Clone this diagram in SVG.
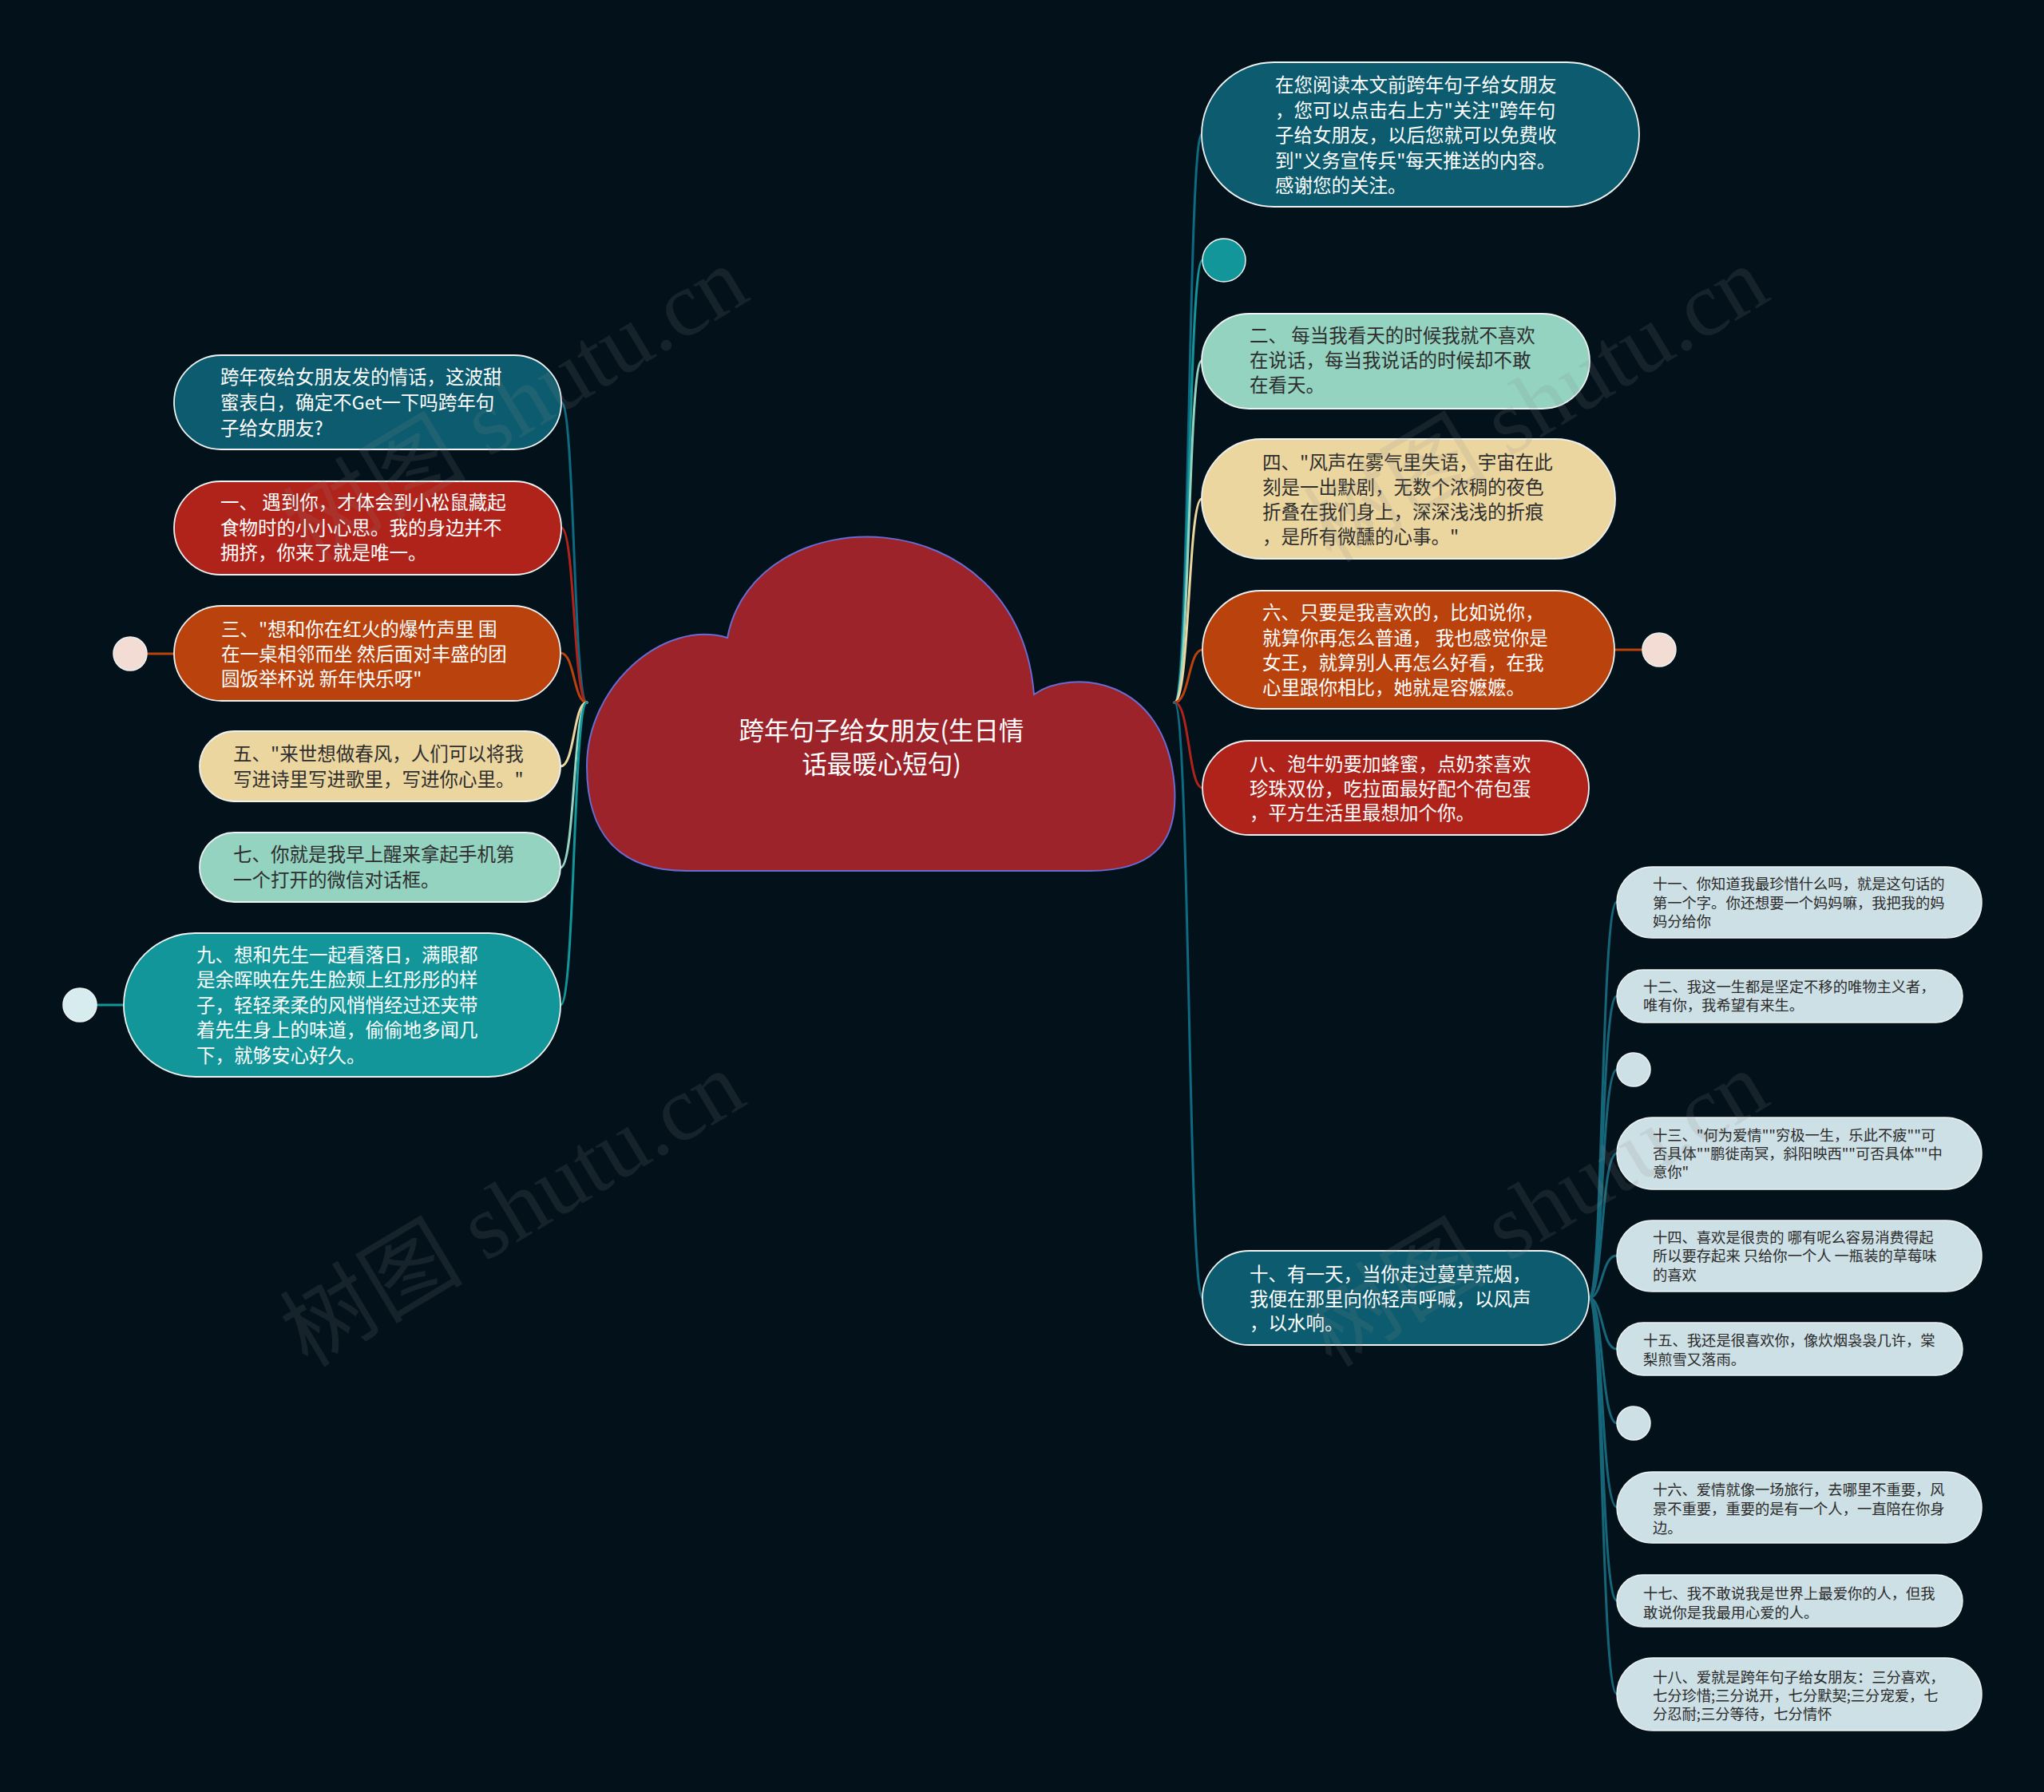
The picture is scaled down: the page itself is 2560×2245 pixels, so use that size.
<svg xmlns="http://www.w3.org/2000/svg" width="2560" height="2245" viewBox="0 0 2560 2245">
<style>
.bg{fill:#03111b}
.t{font-family:"Noto Sans CJK SC","Noto Sans",sans-serif;font-size:23.5px}
.ts{font-family:"Noto Sans CJK SC","Noto Sans",sans-serif;font-size:18.3px;fill:#2a2a2a}
.w{fill:#ffffff}
.d{fill:#2e2e2e}
.box{stroke:#eef2f2;stroke-width:1.8}
.c{fill:none;stroke-width:3;stroke-linecap:round}
.sub{fill:#cde0e5;stroke:#eef2f2;stroke-width:1.5}
.wm{font-family:"Liberation Serif","Noto Sans CJK SC",serif;font-size:115px;fill:#8a8a8a;opacity:0.15}
</style>
<rect class="bg" x="0" y="0" width="2560" height="2245"/>

<g id="connectors">
  <!-- left -->
  <path class="c" stroke="#0e6a80" d="M735,880 C718,880 720,504 703,504"/>
  <path class="c" stroke="#b0231a" d="M735,880 C718,880 720,661 703,661"/>
  <path class="c" stroke="#b9420d" d="M735,880 C718,880 720,818 702,818"/>
  <path class="c" stroke="#ecd6a0" d="M735,880 C718,880 720,960 702,960"/>
  <path class="c" stroke="#93d3c0" d="M735,880 C718,880 720,1087 702,1087"/>
  <path class="c" stroke="#12969a" d="M735,880 C718,880 720,1259 702,1259"/>
  <path class="c" stroke="#b9420d" d="M184,819 L218,819"/>
  <path class="c" stroke="#12969a" d="M121,1259 L155,1259"/>
  <!-- right -->
  <path class="c" stroke="#0e6a80" d="M1471,880 C1490,880 1488,168 1505,168"/>
  <path class="c" stroke="#12969a" d="M1471,880 C1490,880 1488,326 1506,326"/>
  <path class="c" stroke="#93d3c0" d="M1471,880 C1490,880 1488,452 1505,452"/>
  <path class="c" stroke="#ecd6a0" d="M1471,880 C1490,880 1488,625 1505,625"/>
  <path class="c" stroke="#b9420d" d="M1471,880 C1490,880 1488,814 1506,814"/>
  <path class="c" stroke="#b0231a" d="M1471,880 C1490,880 1488,987 1506,987"/>
  <path class="c" stroke="#0e6a80" d="M1471,880 C1490,880 1488,1626 1506,1626"/>
  <path class="c" stroke="#b9420d" d="M2022,814 L2057,814"/>
  <!-- sub -->
  <g stroke="#16667a">
  <path class="c" d="M1990,1626 C2008,1626 2005,1130 2025,1130"/>
  <path class="c" d="M1990,1626 C2008,1626 2005,1248 2025,1248"/>
  <path class="c" d="M1990,1626 C2008,1626 2005,1340 2025,1340"/>
  <path class="c" d="M1990,1626 C2008,1626 2005,1445 2025,1445"/>
  <path class="c" d="M1990,1626 C2008,1626 2005,1573 2025,1573"/>
  <path class="c" d="M1990,1626 C2008,1626 2005,1690 2025,1690"/>
  <path class="c" d="M1990,1626 C2008,1626 2005,1783 2025,1783"/>
  <path class="c" d="M1990,1626 C2008,1626 2005,1888 2025,1888"/>
  <path class="c" d="M1990,1626 C2008,1626 2005,2005 2025,2005"/>
  <path class="c" d="M1990,1626 C2008,1626 2005,2122 2025,2122"/>
  </g>
</g>

<g id="center">
  <path d="M911,799 C945,620 1275,620 1295,870 C1340,838 1460,845 1471,985 C1476,1060 1440,1091 1365,1091 L860,1091 C780,1091 735,1050 735,960 C735,860 830,775 911,799 Z" fill="#9c2329" stroke="#6a6bd0" stroke-width="2"/>
  <text class="t w" style="font-size:31.5px" text-anchor="middle" x="1104" y="927">跨年句子给女朋友(生日情</text>
  <text class="t w" style="font-size:31.5px" text-anchor="middle" x="1104" y="969">话最暖心短句)</text>
</g>

<g id="n-l1">
  <rect class="box" x="218" y="445" width="485" height="118" rx="59" fill="#0c5b6e"/>
  <text class="t w" x="276" y="481">跨年夜给女朋友发的情话，这波甜</text>
  <text class="t w" x="276" y="513">蜜表白，确定不Get一下吗跨年句</text>
  <text class="t w" x="276" y="545">子给女朋友?</text>
</g>
<g id="n-one">
  <rect class="box" x="218" y="603" width="485" height="117" rx="58.5" fill="#b0231a"/>
  <text class="t w" x="276" y="638">一、 遇到你，才体会到小松鼠藏起</text>
  <text class="t w" x="276" y="670">食物时的小小心思。我的身边并不</text>
  <text class="t w" x="276" y="701">拥挤，你来了就是唯一。</text>
</g>
<g id="n-three">
  <rect class="box" x="218" y="759" width="484" height="119" rx="59.5" fill="#b9420d"/>
  <text class="t w" x="277" y="797">三、"想和你在红火的爆竹声里 围</text>
  <text class="t w" x="277" y="828">在一桌相邻而坐 然后面对丰盛的团</text>
  <text class="t w" x="277" y="859">圆饭举杯说 新年快乐呀"</text>
  <circle cx="163" cy="819" r="21" fill="#f2dcd3" stroke="#eef2f2" stroke-width="1.5"/>
</g>
<g id="n-five">
  <rect class="box" x="250" y="916" width="452" height="88" rx="44" fill="#ecd6a0"/>
  <text class="t d" x="292" y="953">五、"来世想做春风，人们可以将我</text>
  <text class="t d" x="292" y="985">写进诗里写进歌里，写进你心里。"</text>
</g>
<g id="n-seven">
  <rect class="box" x="250" y="1043" width="452" height="87" rx="43.5" fill="#93d3c0"/>
  <text class="t d" x="292" y="1079">七、你就是我早上醒来拿起手机第</text>
  <text class="t d" x="292" y="1111">一个打开的微信对话框。</text>
</g>
<g id="n-nine">
  <rect class="box" x="155" y="1169" width="547" height="180" rx="90" fill="#12969a"/>
  <text class="t w" x="246" y="1205">九、想和先生一起看落日，满眼都</text>
  <text class="t w" x="246" y="1236">是余晖映在先生脸颊上红彤彤的样</text>
  <text class="t w" x="246" y="1268">子，轻轻柔柔的风悄悄经过还夹带</text>
  <text class="t w" x="246" y="1299">着先生身上的味道，偷偷地多闻几</text>
  <text class="t w" x="246" y="1331">下，就够安心好久。</text>
  <circle cx="100" cy="1259" r="21" fill="#d6ecef" stroke="#eef2f2" stroke-width="1.5"/>
</g>

<g id="n-r1">
  <rect class="box" x="1505" y="78" width="548" height="181" rx="90.5" fill="#0c5b6e"/>
  <text class="t w" x="1597" y="115">在您阅读本文前跨年句子给女朋友</text>
  <text class="t w" x="1597" y="147">，您可以点击右上方"关注"跨年句</text>
  <text class="t w" x="1597" y="178">子给女朋友，以后您就可以免费收</text>
  <text class="t w" x="1597" y="210">到"义务宣传兵"每天推送的内容。</text>
  <text class="t w" x="1597" y="241">感谢您的关注。</text>
</g>
<g id="n-rc">
  <circle cx="1533" cy="326" r="27" fill="#12969a" stroke="#eef2f2" stroke-width="1.5"/>
</g>
<g id="n-two">
  <rect class="box" x="1505" y="393" width="486" height="119" rx="59.5" fill="#93d3c0"/>
  <text class="t d" x="1565" y="429">二、 每当我看天的时候我就不喜欢</text>
  <text class="t d" x="1565" y="460">在说话，每当我说话的时候却不敢</text>
  <text class="t d" x="1565" y="491">在看天。</text>
</g>
<g id="n-four">
  <rect class="box" x="1505" y="550" width="518" height="150" rx="75" fill="#ecd6a0"/>
  <text class="t d" x="1581" y="588">四、"风声在雾气里失语，宇宙在此</text>
  <text class="t d" x="1581" y="619">刻是一出默剧，无数个浓稠的夜色</text>
  <text class="t d" x="1581" y="650">折叠在我们身上，深深浅浅的折痕</text>
  <text class="t d" x="1581" y="681">，是所有微醺的心事。"</text>
</g>
<g id="n-six">
  <rect class="box" x="1506" y="740" width="516" height="148" rx="74" fill="#b9420d"/>
  <text class="t w" x="1581" y="776">六、只要是我喜欢的，比如说你，</text>
  <text class="t w" x="1581" y="808">就算你再怎么普通， 我也感觉你是</text>
  <text class="t w" x="1581" y="839">女王，就算别人再怎么好看，在我</text>
  <text class="t w" x="1581" y="870">心里跟你相比，她就是容嬷嬷。</text>
  <circle cx="2078" cy="814" r="21" fill="#f2dcd3" stroke="#eef2f2" stroke-width="1.5"/>
</g>
<g id="n-eight">
  <rect class="box" x="1506" y="928" width="484" height="118" rx="59" fill="#b0231a"/>
  <text class="t w" x="1565" y="966">八、泡牛奶要加蜂蜜，点奶茶喜欢</text>
  <text class="t w" x="1565" y="997">珍珠双份，吃拉面最好配个荷包蛋</text>
  <text class="t w" x="1565" y="1027">，平方生活里最想加个你。</text>
</g>
<g id="n-ten">
  <rect class="box" x="1506" y="1567" width="484" height="118" rx="59" fill="#0c5b6e"/>
  <text class="t w" x="1565" y="1605">十、有一天，当你走过蔓草荒烟，</text>
  <text class="t w" x="1565" y="1636">我便在那里向你轻声呼喊，以风声</text>
  <text class="t w" x="1565" y="1666">，以水响。</text>
</g>

<g id="n-11">
  <rect class="sub" x="2025" y="1086" width="457" height="89" rx="44.5"/>
  <text class="ts" x="2070" y="1114">十一、你知道我最珍惜什么吗，就是这句话的</text>
  <text class="ts" x="2070" y="1138">第一个字。你还想要一个妈妈嘛，我把我的妈</text>
  <text class="ts" x="2070" y="1161">妈分给你</text>
</g>
<g id="n-12">
  <rect class="sub" x="2025" y="1215" width="433" height="66" rx="33"/>
  <text class="ts" x="2058" y="1243">十二、我这一生都是坚定不移的唯物主义者，</text>
  <text class="ts" x="2058" y="1266">唯有你，我希望有来生。</text>
</g>
<g id="n-c1">
  <circle class="sub" cx="2046" cy="1340" r="21"/>
</g>
<g id="n-13">
  <rect class="sub" x="2025" y="1400" width="457" height="90" rx="45"/>
  <text class="ts" x="2070" y="1429">十三、"何为爱情""穷极一生，乐此不疲""可</text>
  <text class="ts" x="2070" y="1452">否具体""鹏徙南冥，斜阳映西""可否具体""中</text>
  <text class="ts" x="2070" y="1475">意你"</text>
</g>
<g id="n-14">
  <rect class="sub" x="2025" y="1529" width="457" height="89" rx="44.5"/>
  <text class="ts" x="2070" y="1557">十四、喜欢是很贵的 哪有呢么容易消费得起</text>
  <text class="ts" x="2070" y="1580">所以要存起来 只给你一个人 一瓶装的草莓味</text>
  <text class="ts" x="2070" y="1604">的喜欢</text>
</g>
<g id="n-15">
  <rect class="sub" x="2025" y="1657" width="433" height="66" rx="33"/>
  <text class="ts" x="2058" y="1686">十五、我还是很喜欢你，像炊烟袅袅几许，棠</text>
  <text class="ts" x="2058" y="1710">梨煎雪又落雨。</text>
</g>
<g id="n-c2">
  <circle class="sub" cx="2046" cy="1783" r="21"/>
</g>
<g id="n-16">
  <rect class="sub" x="2025" y="1844" width="457" height="89" rx="44.5"/>
  <text class="ts" x="2070" y="1873">十六、爱情就像一场旅行，去哪里不重要，风</text>
  <text class="ts" x="2070" y="1897">景不重要，重要的是有一个人，一直陪在你身</text>
  <text class="ts" x="2070" y="1921">边。</text>
</g>
<g id="n-17">
  <rect class="sub" x="2025" y="1973" width="433" height="65" rx="32.5"/>
  <text class="ts" x="2058" y="2003">十七、我不敢说我是世界上最爱你的人，但我</text>
  <text class="ts" x="2058" y="2027">敢说你是我最用心爱的人。</text>
</g>
<g id="n-18">
  <rect class="sub" x="2025" y="2077" width="457" height="91" rx="45.5"/>
  <text class="ts" x="2070" y="2108">十八、爱就是跨年句子给女朋友：三分喜欢，</text>
  <text class="ts" x="2070" y="2131">七分珍惜;三分说开，七分默契;三分宠爱，七</text>
  <text class="ts" x="2070" y="2154">分忍耐;三分等待，七分情怀</text>
</g>

<g id="watermarks">
  <text class="wm" text-anchor="middle" transform="translate(666,540) rotate(-31)">树图 shutu.cn</text>
  <text class="wm" text-anchor="middle" transform="translate(662,1548) rotate(-31)">树图 shutu.cn</text>
  <text class="wm" text-anchor="middle" transform="translate(1944,540) rotate(-31)">树图 shutu.cn</text>
  <text class="wm" text-anchor="middle" transform="translate(1944,1548) rotate(-31)">树图 shutu.cn</text>
</g>
</svg>
